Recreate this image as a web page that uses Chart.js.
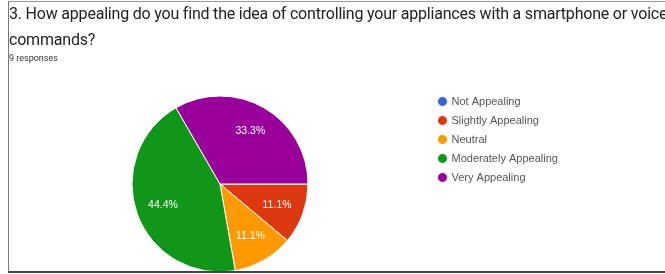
<!DOCTYPE html>
<html>
<head>
<meta charset="utf-8">
<script src="https://cdn.jsdelivr.net/npm/chart.js@4"></script>
<style>
  body { margin: 0; background: #fff; width: 665px; height: 274px; overflow: hidden; position: relative; }
  .frame { position: absolute; left: 8px; top: 1px; width: 670px; height: 269px;
           border-left: 1px solid #777; border-top: 1px solid #999; border-bottom: 2px solid #444; }
  .title { position: absolute; left: 9px; top: 1px; width: 680px; font-family: Roboto, sans-serif;
           font-size: 16px; letter-spacing: -0.2px; line-height: 26px; color: #222; white-space: nowrap; overflow: hidden; }
  .sub { position: absolute; left: 9px; top: 53px; font-family: Roboto, sans-serif; font-size: 9px; color: #333; }
  .clip { position: absolute; left: 9px; top: 88px; width: 656px; height: 183px; overflow: hidden; }
</style>
</head>
<body>
<div class="clip"><canvas id="myChart" width="622" height="192"></canvas></div>
<div class="frame"></div>
<div class="title">3. How appealing do you find the idea of controlling your appliances with a smartphone or voice<br>commands?</div>
<div class="sub">9 responses</div>
<script>
const labels = [
  'Not Appealing',
  'Slightly Appealing',
  'Neutral',
  'Moderately Appealing',
  'Very Appealing'
];

const responses = [0, 1, 1, 4, 3];

const colors = ['#3366cc', '#dc3912', '#ff9900', '#109618', '#990099'];

// percentage text inside each slice
const sliceLabels = {
  id: 'sliceLabels',
  afterDatasetsDraw(chart) {
    const ctx = chart.ctx;
    const meta = chart.getDatasetMeta(0);
    const total = responses.reduce((a, b) => a + b, 0);
    ctx.save();
    ctx.font = '10.5px "Liberation Sans", Arial, sans-serif';
    ctx.fillStyle = '#fff';
    ctx.textAlign = 'center';
    ctx.textBaseline = 'middle';
    meta.data.forEach((arc, i) => {
      if (!responses[i]) return;
      const p = arc.getProps(['x', 'y', 'startAngle', 'endAngle', 'outerRadius'], true);
      const mid = (p.startAngle + p.endAngle) / 2;
      const r = p.outerRadius * 0.69;
      const txt = (responses[i] / total * 100).toFixed(1) + '%';
      ctx.fillText(txt, p.x + Math.cos(mid) * r, p.y + Math.sin(mid) * r);
    });
    ctx.restore();
  }
};

// keep the legend box a fixed width so the pie sits left of it
const legendWidth = {
  id: 'legendWidth',
  beforeLayout(chart) {
    const legend = chart.legend;
    if (!legend || legend._fixed) return;
    const fit = legend.fit;
    legend.fit = function () { fit.call(this); this.width = 200; };
    legend._fixed = true;
  }
};

const data = {
  labels: labels,
  datasets: [{
    data: responses,
    backgroundColor: colors,
    borderColor: '#fff',
    borderWidth: 1
  }]
};

const config = {
  type: 'pie',
  data: data,
  options: {
    responsive: false,
    animation: false,
    rotation: 90,
    radius: 88,
    plugins: {
      tooltip: { enabled: false },
      legend: {
        position: 'right',
        align: 'start',
        labels: {
          usePointStyle: true,
          pointStyle: 'circle',
          boxWidth: 7,
          boxHeight: 7,
          padding: 8,
          color: '#555',
          font: { family: '"Liberation Sans", Arial, sans-serif', size: 11 }
        }
      }
    }
  },
  plugins: [sliceLabels, legendWidth]
};

new Chart(document.getElementById('myChart'), config);
</script>
</body>
</html>
